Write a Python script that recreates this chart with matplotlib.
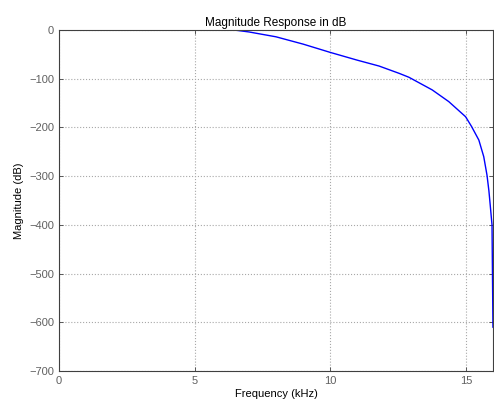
import numpy as np
import matplotlib
matplotlib.use("Agg")
import matplotlib.pyplot as plt

# Magnitude response
freq_khz = [0.0, 3.0, 6.0, 6.45, 7.0, 8.0, 9.0, 10.0, 11.0, 11.8, 12.54, 12.9,
            13.76, 14.37, 14.99, 15.21, 15.48, 15.66, 15.78, 15.85,
            15.9, 15.94, 15.965, 16.0]
mag_db = [0.0, 0.0, 0.0, 0.0, -4.0, -14.0, -29.0, -46.0, -62.0, -74.0, -89.0,
          -97.0, -123.0, -147.0, -178.0, -198.0, -226.0, -260.0,
          -298.0, -330.0, -360.0, -385.0, -400.0, -610.0]

x_ticks = [0, 5, 10, 15]
y_ticks = [0, -100, -200, -300, -400, -500, -600, -700]

plt.rcParams['font.family'] = ['Liberation Sans', 'DejaVu Sans']

fig = plt.figure(figsize=(4.94, 4.03), dpi=100)
ax = fig.add_axes([0.1194, 0.0794, 0.8785, 0.8462])

ax.plot(freq_khz, mag_db, color='blue', linewidth=1.0)

ax.set_xlim(0, 16)
ax.set_ylim(-700, 0)
ax.set_xticks(x_ticks)
ax.set_yticks(y_ticks)
ax.grid(True, color='#a8a8a8', linestyle=':', linewidth=0.8)
ax.tick_params(direction='in', length=3, top=True, right=True,
               labelsize=8, colors='#404040', labelcolor='#606060', width=0.6)
for s in ax.spines.values():
    s.set_color('#404040')
    s.set_linewidth(0.8)

ax.set_title('Magnitude Response in dB', fontsize=8.5, pad=3)
ax.set_xlabel('Frequency (kHz)', fontsize=8, labelpad=2)
ax.set_ylabel('Magnitude (dB)', fontsize=8, labelpad=4)

fig.savefig('out.png', dpi=100)
